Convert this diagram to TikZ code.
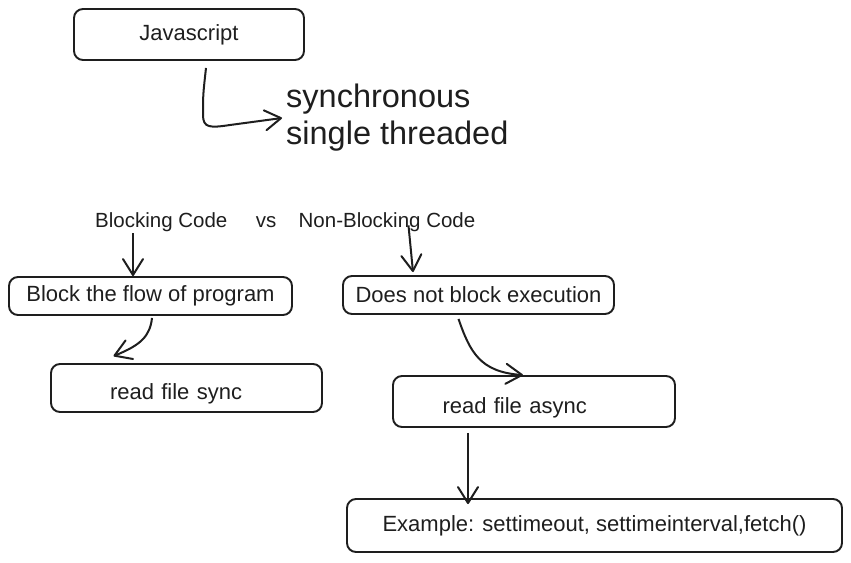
\documentclass[tikz,border=0pt]{standalone}
\usepackage{fontspec}
\setmainfont{Liberation Sans}
\usetikzlibrary{positioning, arrows.meta, calc}
\definecolor{inkdark}{RGB}{30,30,30}

\begin{document}
\begin{tikzpicture}[x=1pt, y=-1pt,
        box/.style={draw=inkdark, line width=1.9pt, rounded corners=9pt, inner sep=0pt, text=inkdark, font=\fontsize{22}{26}\selectfont},
        lowtext/.style={text height=28pt, text depth=4.6pt, align=left},
        lbl/.style={inner sep=0pt, text=inkdark, font=\fontsize{20.5}{24}\selectfont},
        arr/.style={-{Straight Barb[length=16pt, width=20pt, round]}, line width=2pt, draw=inkdark}]
        \useasboundingbox (0,0) rectangle (851,562);
        \node[box, minimum width=230pt, minimum height=51pt] (js) at (189,34.5) {Javascript};
        \node[lbl, anchor=west, align=left, font=\fontsize{32.5}{37}\selectfont] (sync) at (286,118) {synchronous\\single threaded};
        \node[lbl, anchor=base west] (blocking) at (95,227) {Blocking Code};
        \node[lbl, base right=28pt of blocking] (vs) {vs};
        \node[lbl, base right=22pt of vs] (nonblocking) {Non-Blocking Code};
        \node[box, minimum width=283pt, minimum height=38pt] (blk) at (150.5,296) {Block the flow of program};
        \node[box, minimum width=271pt, minimum height=38pt] (dne) at (478.5,295) {Does not block execution};
        \node[box, lowtext, text width=153pt, minimum width=271pt, minimum height=48pt] (rfs) at (186.5,388) {read file sync};
        \node[box, lowtext, text width=183pt, minimum width=282pt, minimum height=51pt] (rfa) at (534,401.5) {read file async};
        \node[box, minimum width=495pt, minimum height=53pt] (ex) at (594.5,525.5) {Example: settimeout, settimeinterval,fetch()};
        \draw[arr] ([xshift=17pt, yshift=-7pt]js.south) .. controls (203,95) .. (203,115)
          .. controls (203,128) and (210,128) .. (230,125) -- ([xshift=-4pt]sync.west);
        \draw[arr] ([xshift=38pt, yshift=-2pt]blocking.south west) -- ([xshift=-17.5pt]blk.north);
        \draw[arr] ([xshift=110pt, yshift=6pt]nonblocking.south west) -- ([xshift=-65.5pt, yshift=3pt]dne.north);
        \draw[arr] ([xshift=1.5pt, yshift=-2pt]blk.south) .. controls (150,336) and (141,345) .. ([xshift=-73pt, yshift=7pt]rfs.north);
        \draw[arr] ([xshift=-20pt, yshift=-4pt]dne.south) .. controls (470,352) and (480,372) .. ([xshift=-11pt]rfa.north);
        \draw[arr] ([xshift=-66pt, yshift=-5pt]rfa.south) -- ([xshift=-126.5pt, yshift=-6pt]ex.north);
      \end{tikzpicture}
\end{document}
